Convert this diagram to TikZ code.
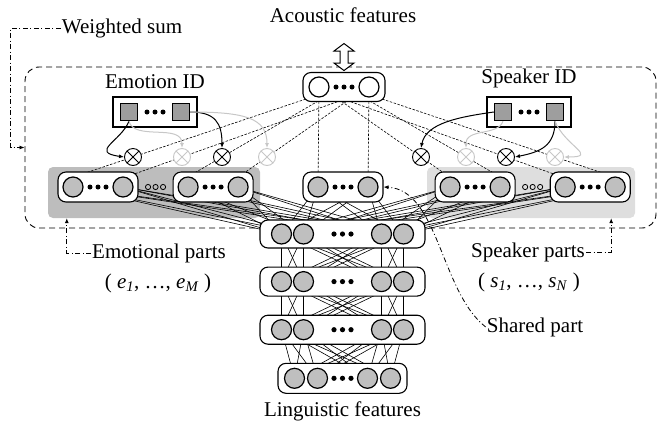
\documentclass[tikz,border=0pt]{standalone}
\usepackage{fontspec}
\setmainfont{Liberation Serif}
\usepackage{tikz}
\usetikzlibrary{positioning}
\usetikzlibrary{calc}
\usetikzlibrary{shapes}
\usetikzlibrary{arrows.meta}
\usepackage{xcolor}
\definecolor{unitgray}{gray}{0.75}
\definecolor{idgray}{gray}{0.62}
\definecolor{bgdark}{gray}{0.74}
\definecolor{bglight}{gray}{0.87}
\definecolor{faint}{gray}{0.78}
\tikzstyle{nnbox} = [rectangle,rounded corners=8pt,draw=black,fill=white,line width=1.1pt,minimum width=80pt,minimum height=30pt,inner sep=0pt]
\tikzstyle{unit} = [circle,draw=black,fill=unitgray,line width=1.2pt,minimum size=20pt,inner sep=0pt]
\tikzstyle{idbox} = [rectangle,draw=black,fill=white,line width=1.1pt,minimum width=84pt,minimum height=30pt,inner sep=0pt]
\tikzstyle{idunit} = [rectangle,draw=black,fill=idgray,line width=1.4pt,minimum size=17pt,inner sep=0pt]
\tikzstyle{txt} = [inner sep=1pt,font=\fontsize{21pt}{24pt}\selectfont]
\tikzstyle{wire} = [line width=0.6pt]
\tikzstyle{acline} = [line width=0.6pt,dash pattern=on 2.5pt off 1.5pt]
\tikzstyle{dd} = [line width=0.8pt,dash pattern=on 5pt off 2.5pt on 1pt off 2.5pt]
\tikzstyle{idarrow} = [line width=1pt,->]
\tikzset{>={Latex[length=5pt,width=4pt]}}
\tikzset{mul/.style={circle,draw=#1,fill=white,line width=0.9pt,minimum size=17pt,inner sep=0pt,
    path picture={\draw[#1,line width=0.9pt] (path picture bounding box.north west) -- (path picture bounding box.south east)
      (path picture bounding box.north east) -- (path picture bounding box.south west);}},
  mul/.default=black}
\pgfdeclarelayer{back}
\pgfdeclarelayer{wires}
\pgfsetlayers{back,wires,main}

\begin{document}
\begin{tikzpicture}[x=1pt,y=-1pt]
  \useasboundingbox (0,0) rectangle (658,424);

  % acoustic side
  \node [nnbox,minimum width=82pt,minimum height=29pt] (ac) at (344,87) {};
  \node [unit,fill=white] (acL) at ($(ac)+(-25,0)$) {};
  \node [unit,fill=white] (acR) at ($(ac)+(25,0)$) {};
  \coordinate (io) at (344,57);
  \draw [fill=white,line width=1pt] ($(io)+(0,-13.5)$) -- ++(10,7.5) -- ++(-6,0) -- ++(0,12) -- ++(6,0)
    -- ++(-10,7.5) -- ++(-10,-7.5) -- ++(6,0) -- ++(0,-12) -- ++(-6,0) -- cycle;
  \node [txt] (actxt) at (343,15) {Acoustic features};

  % parts
  \node [nnbox] (e1) at (98,187) {};
  \node [nnbox,right=34pt of e1] (e2) {};
  \node [nnbox] (sh) at (343,187) {};
  \node [nnbox,right=51pt of sh] (s1) {};
  \node [nnbox,right=34pt of s1] (s2) {};
  \foreach \bx in {e1,e2,sh,s1,s2} {
    \node [unit] (\bx L) at ($(\bx)+(-25,0)$) {};
    \node [unit] (\bx R) at ($(\bx)+(25,0)$) {};
  }

  % linguistic stack
  \node [nnbox,minimum width=165pt,minimum height=28pt] (l1) at (342.5,234) {};
  \node [nnbox,minimum width=165pt,minimum height=29pt,below=18pt of l1] (l2) {};
  \node [nnbox,minimum width=165pt,minimum height=29pt,below=18pt of l2] (l3) {};
  \node [nnbox,minimum width=129pt,minimum height=30pt,below=18pt of l3] (l4) {};
  \foreach \l in {l1,l2,l3} {
    \node [unit] (\l A) at ($(\l)+(-61,0)$) {};
    \node [unit] (\l B) at ($(\l)+(-39,0)$) {};
    \node [unit] (\l C) at ($(\l)+(39,0)$) {};
    \node [unit] (\l D) at ($(\l)+(61,0)$) {};
  }
  \node [unit] (l4A) at ($(l4)+(-48,0)$) {};
  \node [unit] (l4B) at ($(l4)+(-25,0)$) {};
  \node [unit] (l4C) at ($(l4)+(25,0)$) {};
  \node [unit] (l4D) at ($(l4)+(48,0)$) {};
  \node [txt,below=7pt of l4] (lin) {Linguistic features};

  % ID inputs
  \node [idbox] (eid) at (155,112) {};
  \node [idunit] (eid1) at ($(eid)+(-26,0)$) {};
  \node [idunit] (eid2) at ($(eid)+(26,0)$) {};
  \node [txt,above=7pt of eid] (eidtxt) {Emotion ID};
  \node [idbox] (sid) at (529,112) {};
  \node [idunit] (sid1) at ($(sid)+(-26,0)$) {};
  \node [idunit] (sid2) at ($(sid)+(26,0)$) {};
  \node [txt,above=7pt of sid] (sidtxt) {Speaker ID};

  % dots
  \foreach \bx in {e1,e2,sh,s1,s2,ac,eid,sid}
    \foreach \x in {-8,0,8} \fill ($(\bx)+(\x,0)$) circle (2.5pt);
  \foreach \l in {l1,l2,l3,l4}
    \foreach \x in {-8.5,0,8.5} \fill ($(\l)+(\x,0)$) circle (2.6pt);
  \foreach \x in {-7.5,0,7.5} {
    \draw [line width=0.8pt] ($(e1.east)!0.5!(e2.west)+(\x,0)$) circle (2.6pt);
    \draw [line width=0.8pt] ($(s1.east)!0.5!(s2.west)+(\x,0)$) circle (2.6pt);
  }

  % multipliers
  \node [mul] (m1) at (133,157) {};
  \node [mul=faint] (m2) at (182,157) {};
  \node [mul] (m3) at (222,157) {};
  \node [mul=faint] (m4) at (267,157) {};
  \node [mul] (m5) at (421,157) {};
  \node [mul=faint] (m6) at (466,157) {};
  \node [mul] (m7) at (506,157) {};
  \node [mul=faint] (m8) at (555,157) {};

  \draw [idarrow] (eid1.south) .. controls +(-8,20) and +(-35,-5) .. (m1.west);
  \draw [idarrow,faint] (eid1.south) .. controls +(5,20) and +(0,-25) .. (m2.north);
  \draw [idarrow] (eid2.east) .. controls +(25,0) and +(0,-25) .. (m3.north);
  \draw [idarrow,faint] (eid2.east) .. controls +(55,0) and +(0,-30) .. (m4.north);
  \draw [idarrow] (sid1.west) .. controls +(-35,5) and +(5,-25) .. (m5.north);
  \draw [idarrow,faint] (sid1.south) .. controls +(-5,15) and +(0,-20) .. (m6.north);
  \draw [idarrow] (sid2.south) .. controls +(0,25) and +(25,-5) .. (m7.east);
  \draw [idarrow,faint] (sid2.south) .. controls +(10,25) and +(35,0) .. (m8.east);

  % connections
  \begin{pgfonlayer}{wires}
    \foreach \lo/\hi in {l1/l2,l2/l3,l3/l4}
      \foreach \i in {A,B,C,D}
        \foreach \j in {A,B,C,D} \draw [wire] (\lo\i) -- (\hi\j);
    \foreach \bx in {e1,e2,sh,s1,s2}
      \foreach \i in {L,R}
        \foreach \j in {A,B,C,D} \draw [wire] (\bx\i) -- (l1\j);
    \draw [acline] (acL) -- (shL);
    \draw [acline] (acR) -- (shR);
    \foreach \m/\f in {m1/0.04,m2/0.51,m3/0.23,m4/0.57,m5/0.43,m6/0.77,m7/0.49,m8/0.96} {
      \coordinate (a) at ($(ac.south west)!\f!(ac.south east)+(0,-3)$);
      \draw [acline] (a) -- ($(a)!1.35!(\m)$);
    }
  \end{pgfonlayer}

  % groups
  \begin{pgfonlayer}{back}
    \node [fill=bgdark,rounded corners=5pt,minimum width=212pt,minimum height=51pt,inner sep=0pt] (ebg) at (154,192.5) {};
    \node [fill=bglight,rounded corners=5pt,minimum width=208pt,minimum height=51pt,inner sep=0pt] (sbg) at (531,192.5) {};
    \node [draw,line width=0.9pt,dash pattern=on 6pt off 4pt,rounded corners=14pt,minimum width=631pt,minimum height=161pt,inner sep=0pt] (frame) at (340.5,147.5) {};
  \end{pgfonlayer}

  % labels
  \node [txt] (ws) at (122,28) {Weighted sum};
  \draw [dd,->] (ws.west) -- ++(-50,0) |- (frame.west);

  \node [txt] (emo) at (159,253) {Emotional parts};
  \node [txt] (emosub) at (158,283) {( \textit{e}\textsubscript{\textit{1}}, …, \textit{e}\textsubscript{\textit{M}} )};
  \coordinate (eup) at ($(ebg.south west)+(19,0)$);
  \draw [dd,->] (emo.west) -| (eup);

  \node [txt] (spk) at (528,252) {Speaker parts};
  \node [txt] (spksub) at (529,282) {( \textit{s}\textsubscript{\textit{1}}, …, \textit{s}\textsubscript{\textit{N}} )};
  \coordinate (sup) at ($(sbg.south east)+(-24,0)$);
  \draw [dd,->] (spk.east) -| (sup);

  \node [txt] (shp) at (535,327) {Shared part};
  \draw [dd,->] (shp.west) .. controls +(-45,-35) and +(55,3) .. (sh.east);
\end{tikzpicture}
\end{document}
